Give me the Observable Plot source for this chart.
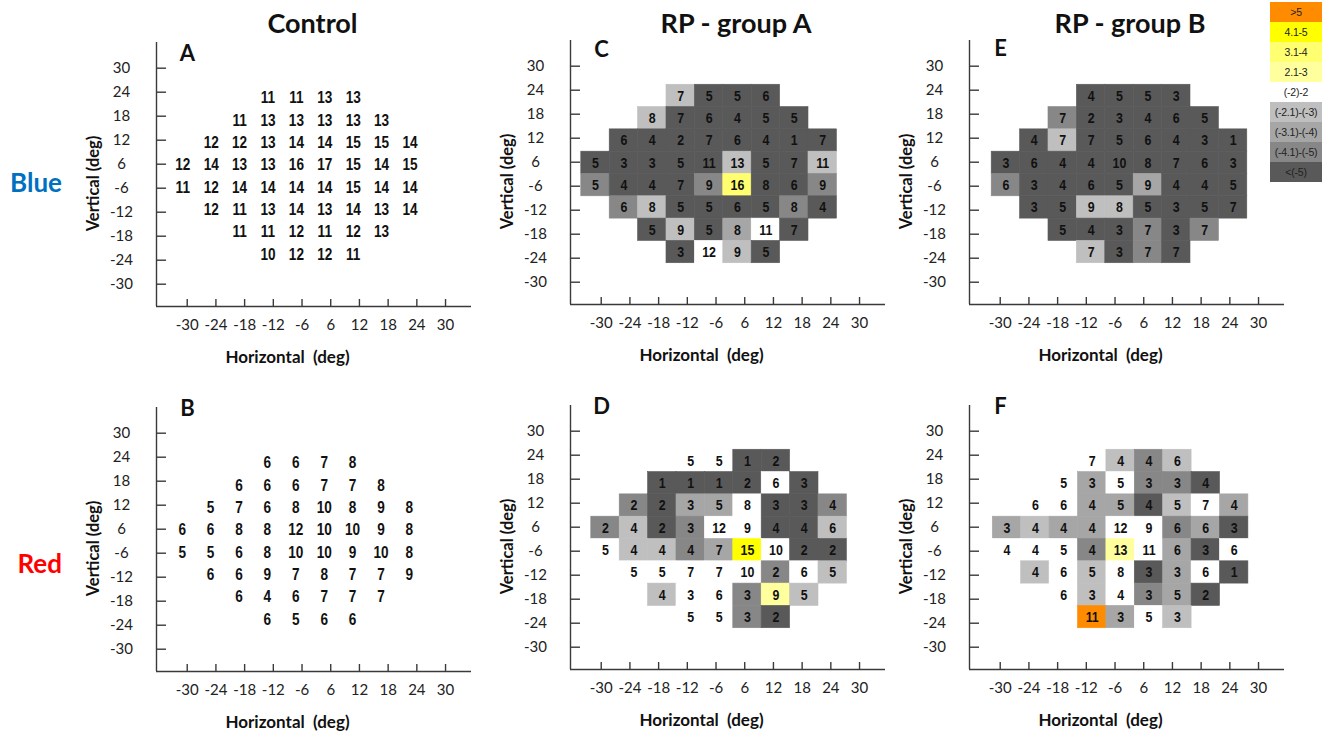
<!DOCTYPE html>
<html><head><meta charset="utf-8">
<script src="https://cdn.jsdelivr.net/npm/d3@7"></script>
<script src="https://cdn.jsdelivr.net/npm/@observablehq/plot@0.6"></script>
<style>
html,body{margin:0;padding:0;background:#fff;overflow:hidden}
#root{position:relative;width:1322px;height:734px;overflow:hidden;font-family:Lato,'Open Sans',sans-serif;background:#fff}
.abs{position:absolute}
.title{font-weight:700;font-size:27px;color:#111;transform:translate(-50%,-50%);white-space:nowrap;line-height:1}
.row-label{font-weight:700;font-size:26px;transform:translate(-100%,-50%);white-space:nowrap;line-height:1}
.panel{position:absolute}
.legend{position:absolute;left:1270px;top:2px;width:56px;font-family:'Liberation Sans',Arial,sans-serif;font-size:10.5px;color:#222}
.legend div{height:20px;line-height:20px;text-align:center;padding-right:4px;white-space:nowrap;letter-spacing:-0.2px}
</style></head><body><div id="root"></div><script>
// ---------- data ----------
const xTickLabels = ["-30","-24","-18","-12","-6","6","12","18","24","30"];
const yTickLabels = ["30","24","18","12","6","-6","-12","-18","-24","-30"];
// test-point grid (deg) and first column of each row
const xDeg = [-27,-21,-15,-9,-3,3,9,15,21];
const yDeg = [21,15,9,3,-3,-9,-15,-21];
const rowStart = [3,2,1,0,0,1,2,3];

const legendLabels = [">5","4.1-5","3.1-4","2.1-3","(-2)-2","(-2.1)-(-3)","(-3.1)-(-4)","(-4.1)-(-5)","<(-5)"];
const legendColors = ["#FF8C00","#FFFF00","#FFFF70","#FFFF9E","#FFFFFF","#BFBFBF","#A6A6A6","#878787","#595959"];

const controlBlue = [
  [11,11,13,13],
  [11,13,13,13,13,13],
  [12,12,13,14,14,15,15,14],
  [12,14,13,13,16,17,15,14,15],
  [11,12,14,14,14,14,15,14,14],
  [12,11,13,14,13,14,13,14],
  [11,11,12,11,12,13],
  [10,12,12,11]
];
const controlRed = [
  [6,6,7,8],
  [6,6,6,7,7,8],
  [5,7,6,8,10,8,9,8],
  [6,6,8,8,12,10,10,9,8],
  [5,5,6,8,10,10,9,10,8],
  [6,6,9,7,8,7,7,9],
  [6,4,6,7,7,7],
  [6,5,6,6]
];
const groupABlue = [
  [7,5,5,6],
  [8,7,6,4,5,5],
  [6,4,2,7,6,4,1,7],
  [5,3,3,5,11,13,5,7,11],
  [5,4,4,7,9,16,8,6,9],
  [6,8,5,5,6,5,8,4],
  [5,9,5,8,11,7],
  [3,12,9,5]
];
// class = index into legendLabels
const groupABlueClass = [
  [5,8,8,8],
  [5,8,8,8,8,8],
  [8,8,8,8,8,8,8,8],
  [8,8,8,8,8,5,8,8,5],
  [7,8,8,8,7,2,8,8,7],
  [7,5,8,8,8,8,7,8],
  [8,5,8,6,4,8],
  [8,4,5,8]
];
const groupARed = [
  [5,5,1,2],
  [1,1,1,2,6,3],
  [2,2,3,5,8,3,3,4],
  [2,4,2,3,12,9,4,4,6],
  [5,4,4,4,7,15,10,2,2],
  [5,5,7,7,10,2,6,5],
  [4,3,6,3,9,5],
  [5,5,3,2]
];
const groupARedClass = [
  [4,4,8,8],
  [8,8,8,8,4,8],
  [7,8,6,6,4,8,8,7],
  [7,5,8,7,4,4,8,8,5],
  [4,5,5,7,6,1,4,8,8],
  [4,4,4,4,4,7,4,5],
  [5,4,4,7,3,5],
  [4,4,7,8]
];
const groupBBlue = [
  [4,5,5,3],
  [7,2,3,4,6,5],
  [4,7,7,5,6,4,3,1],
  [3,6,4,4,10,8,7,6,3],
  [6,3,4,6,5,9,4,4,5],
  [3,5,9,8,5,3,5,7],
  [5,4,3,7,3,7],
  [7,3,7,7]
];
const groupBBlueClass = [
  [8,8,8,8],
  [7,8,8,8,8,8],
  [8,5,8,8,8,8,8,8],
  [8,8,8,8,8,8,8,8,8],
  [7,8,8,8,8,6,8,8,8],
  [8,8,5,5,8,8,8,8],
  [8,8,8,7,8,7],
  [5,8,7,8]
];
const groupBRed = [
  [7,4,4,6],
  [5,3,5,3,3,4],
  [6,6,4,5,4,5,7,4],
  [3,4,4,4,12,9,6,6,3],
  [4,4,5,4,13,11,6,3,6],
  [4,6,5,8,3,3,6,1],
  [6,3,4,3,5,2],
  [11,3,5,3]
];
const groupBRedClass = [
  [4,5,7,5],
  [4,6,4,7,7,8],
  [4,4,6,6,8,5,4,6],
  [6,5,6,6,4,4,7,6,8],
  [4,4,4,7,3,4,6,8,4],
  [5,4,5,4,8,6,4,8],
  [4,5,4,7,6,8],
  [0,6,4,5]
];

const columnTitles = ["Control","RP - group A","RP - group B"];
const rowLabels = ["Blue","Red"];
const xTitle = "Horizontal\u00A0 (deg)";
const yTitle = "Vertical (deg)";

// ---------- layout ----------
const ML = 80, MR = 10, MT = 10, MB = 65, PLOT_W = 315, PLOT_H = 264;
const X_MIN = -32.28, X_MAX = 34.27, Y_MIN = -35.1, Y_MAX = 35.9;
const KX = PLOT_W / (X_MAX - X_MIN), KY = PLOT_H / (Y_MAX - Y_MIN);
const xTickPos = xTickLabels.map((_, k) => -25.79 + 6.064 * k);
const yTickPos = yTickLabels.map((_, k) => 28.99 - 6.455 * k);
const NUM_FONT = "'Liberation Sans',Arial,sans-serif";
const NUM_SQUEEZE = 0.8;
const LAB_FONT = "Lato,'Open Sans',sans-serif";

const panels = [
  {letter:"A", values:controlBlue, classes:null, axisX:156, axisY:306, cellDx:1.3, letterDy:11},
  {letter:"B", values:controlRed,  classes:null, axisX:156, axisY:671, cellDx:0.7, letterDy:1},
  {letter:"C", values:groupABlue, classes:groupABlueClass, axisX:570, axisY:304, cellDx:0, letterDy:9},
  {letter:"D", values:groupARed,  classes:groupARedClass,  axisX:570, axisY:669, cellDx:10, letterDy:1},
  {letter:"E", values:groupBBlue, classes:groupBBlueClass, axisX:969, axisY:304, cellDx:11.4, letterDy:8},
  {letter:"F", values:groupBRed,  classes:groupBRedClass,  axisX:969, axisY:669, cellDx:12.5, letterDy:1}
];

function cellsOf(values, classes) {
  const out = [];
  values.forEach((row, r) => row.forEach((v, i) => {
    const c = rowStart[r] + i;
    out.push({x: xDeg[c], y: yDeg[r], v, k: classes ? classes[r][i] : 4});
  }));
  return out;
}

function makePanel(p) {
  const cells = cellsOf(p.values, p.classes);
  const xt = xTickLabels.map((label, k) => ({label, pos: xTickPos[k]}));
  const yt = yTickLabels.map((label, k) => ({label, pos: yTickPos[k]}));
  const axisColor = "#3a3a3a";
  const marks = [];
  if (p.classes) {
    marks.push(Plot.rect(cells, {
      x1: d => d.x - 3, x2: d => d.x + 3, y1: d => d.y - 3, y2: d => d.y + 3,
      fill: d => legendColors[d.k], stroke: d => legendColors[d.k], strokeWidth: 0.6, dx: p.cellDx
    }));
  }
  marks.push(
    Plot.text(cells, {x: "x", y: "y", text: d => String(d.v), dx: p.cellDx,
      fontSize: p.classes ? 15.5 : 17, fontWeight: "bold", fontFamily: NUM_FONT, fill: "#111"}),
    // axis lines
    Plot.ruleX([X_MIN], {y1: Y_MIN, y2: Y_MAX, stroke: axisColor, strokeWidth: 1.4}),
    Plot.ruleY([Y_MIN], {x1: X_MIN, x2: X_MAX, stroke: axisColor, strokeWidth: 1.4}),
    // inward ticks
    Plot.ruleX(xt, {x: "pos", y1: Y_MIN, y2: Y_MIN + 7 / KY, stroke: axisColor, strokeWidth: 1.4}),
    Plot.ruleY(yt, {y: "pos", x1: X_MIN, x2: X_MIN + 10 / KX, stroke: axisColor, strokeWidth: 1.4}),
    // tick labels
    Plot.text(xt, {x: "pos", frameAnchor: "bottom", text: "label", dy: 19, lineAnchor: "middle",
      fontSize: 15, fontFamily: LAB_FONT, fill: "#222"}),
    Plot.text(yt, {y: "pos", frameAnchor: "left", text: "label", dx: -35, textAnchor: "middle",
      fontSize: 15, fontFamily: LAB_FONT, fill: "#222"}),
    // axis titles
    Plot.text([xTitle], {frameAnchor: "bottom", text: d => d, dx: -26.5, dy: 51, lineAnchor: "middle",
      fontSize: 17, fontWeight: "bold", fontFamily: LAB_FONT, fill: "#111"}),
    Plot.text([yTitle], {frameAnchor: "left", text: d => d, rotate: -90, dx: -63, dy: 9,
      textAnchor: "middle", lineAnchor: "middle",
      fontSize: 16.5, fontWeight: "bold", fontFamily: LAB_FONT, fill: "#111"}),
    // panel letter
    Plot.text([p.letter], {frameAnchor: "top-left", text: d => d, dx: 31, dy: p.letterDy,
      textAnchor: "middle", lineAnchor: "middle",
      fontSize: 22, fontWeight: "bold", fontFamily: LAB_FONT, fill: "#111"})
  );
  const svg = Plot.plot({
    width: ML + PLOT_W + MR, height: MT + PLOT_H + MB,
    marginLeft: ML, marginRight: MR, marginTop: MT, marginBottom: MB,
    x: {domain: [X_MIN, X_MAX], axis: null},
    y: {domain: [Y_MIN, Y_MAX], axis: null},
    color: {type: "identity"},
    style: {background: "transparent", overflow: "visible", fontFamily: LAB_FONT},
    marks
  });
  // narrow the cell numbers (condensed bold look of the original)
  const numGroup = svg.querySelectorAll('g[aria-label="text"]')[0];
  if (numGroup) {
    numGroup.querySelectorAll("text").forEach(t => {
      const tr = t.getAttribute("transform");
      if (tr) {
        t.setAttribute("transform", tr + ` scale(${NUM_SQUEEZE},1)`);
      } else {
        const x = +t.getAttribute("x") || 0, y = +t.getAttribute("y") || 0;
        t.removeAttribute("x"); t.removeAttribute("y");
        t.setAttribute("transform", `translate(${x},${y}) scale(${NUM_SQUEEZE},1)`);
      }
    });
  }
  return svg;
}

const root = document.getElementById("root");
for (const p of panels) {
  const svg = makePanel(p);
  const wrap = document.createElement("div");
  wrap.className = "panel";
  wrap.style.left = (p.axisX - ML) + "px";
  wrap.style.top = (p.axisY - PLOT_H - MT) + "px";
  wrap.appendChild(svg);
  root.appendChild(wrap);
}

// column titles
const titlePos = [[312.5, 22], [736, 22], [1130, 22]];
columnTitles.forEach((t, i) => {
  const d = document.createElement("div");
  d.className = "abs title";
  d.textContent = t;
  d.style.left = titlePos[i][0] + "px";
  d.style.top = titlePos[i][1] + "px";
  root.appendChild(d);
});
// row labels
const rowLabelColors = ["#0070C0", "#FF0000"];
const rowLabelY = [182, 563];
rowLabels.forEach((t, i) => {
  const d = document.createElement("div");
  d.className = "abs row-label";
  d.textContent = t;
  d.style.left = "62px";
  d.style.top = rowLabelY[i] + "px";
  d.style.color = rowLabelColors[i];
  root.appendChild(d);
});
// legend
const lg = document.createElement("div");
lg.className = "legend";
legendLabels.forEach((t, i) => {
  const d = document.createElement("div");
  d.textContent = t;
  d.style.background = legendColors[i];
  lg.appendChild(d);
});
root.appendChild(lg);
</script></body></html>
